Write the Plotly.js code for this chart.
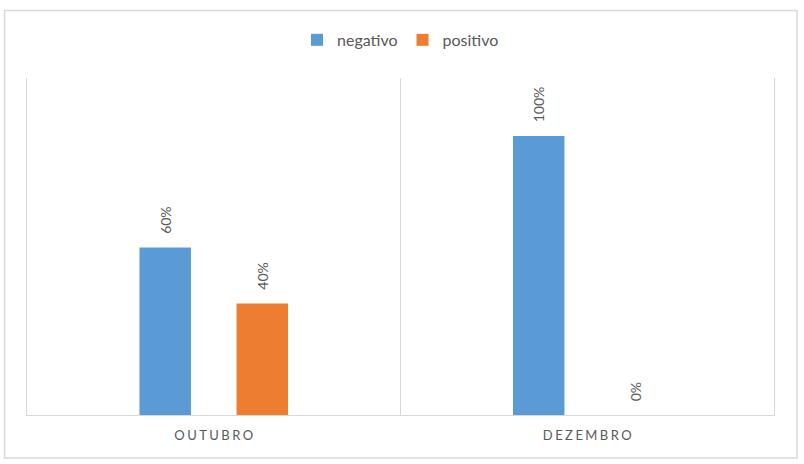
<!DOCTYPE html>
<html>
<head>
<meta charset="utf-8">
<script src="https://cdn.plot.ly/plotly-3.0.1.min.js"></script>
<style>html,body{margin:0;padding:0;background:#fff;}#chart{width:804px;height:464px;}</style>
</head>
<body>
<div id="chart"></div>
<script>
const categories = ["OUTUBRO", "DEZEMBRO"];
const negativo = [0.60, 1.00];
const positivo = [0.40, 0.00];
const seriesNames = ["negativo", "positivo"];
const tickLabels = categories.map(c => c.split("").join("\u2009\u200a"));

const FONT = "Lato, 'Open Sans', sans-serif";
const TXT = "#595959";

const common = {
  type: "bar",
  x: categories,
  textposition: "outside",
  textangle: -90,
  texttemplate: "\u00a0\u00a0\u00a0%{y:.0%}",
  textfont: {family: FONT, size: 14, color: TXT},
  cliponaxis: false,
  hoverinfo: "none"
};

const data = [
  Object.assign({}, common, {name: seriesNames[0], y: negativo, marker: {color: "#5B9BD5"}}),
  Object.assign({}, common, {name: seriesNames[1], y: positivo, marker: {color: "#ED7D31"}})
];

const layout = {
  width: 804, height: 464,
  margin: {l: 27, r: 30, t: 78, b: 49},
  paper_bgcolor: "#fff", plot_bgcolor: "#fff",
  font: {family: FONT, color: TXT},
  barmode: "group",
  bargap: 0.48,
  bargroupgap: 0.47,
  showlegend: true,
  legend: {orientation: "h", x: 0.5, xanchor: "center", y: 1.113, yanchor: "middle",
           font: {family: FONT, size: 16, color: TXT}, itemwidth: 30, tracegroupgap: 0},
  xaxis: {
    type: "category",
    tickvals: categories, ticktext: tickLabels,
    tickson: "boundaries", ticklen: 0,
    showgrid: true, gridcolor: "#d9d9d9", gridwidth: 1,
    showline: true, linecolor: "#d9d9d9", linewidth: 1,
    tickfont: {family: FONT, size: 13, color: TXT},
    ticklabelstandoff: 8,
    zeroline: false
  },
  yaxis: {
    range: [0, 1.208],
    visible: true, showgrid: false, zeroline: false,
    showticklabels: false, ticks: "",
    showline: true, mirror: true, linecolor: "#d9d9d9", linewidth: 1
  },
  shapes: [
    {type: "rect", xref: "paper", yref: "paper", x0: -0.0301, x1: 1.0308, y0: -0.1276, y1: 1.2003,
     line: {color: "#d9d9d9", width: 1.5}, fillcolor: "rgba(0,0,0,0)", layer: "below"}
  ]
};

Plotly.newPlot("chart", data, layout, {displayModeBar: false, staticPlot: true});
</script>
</body>
</html>
